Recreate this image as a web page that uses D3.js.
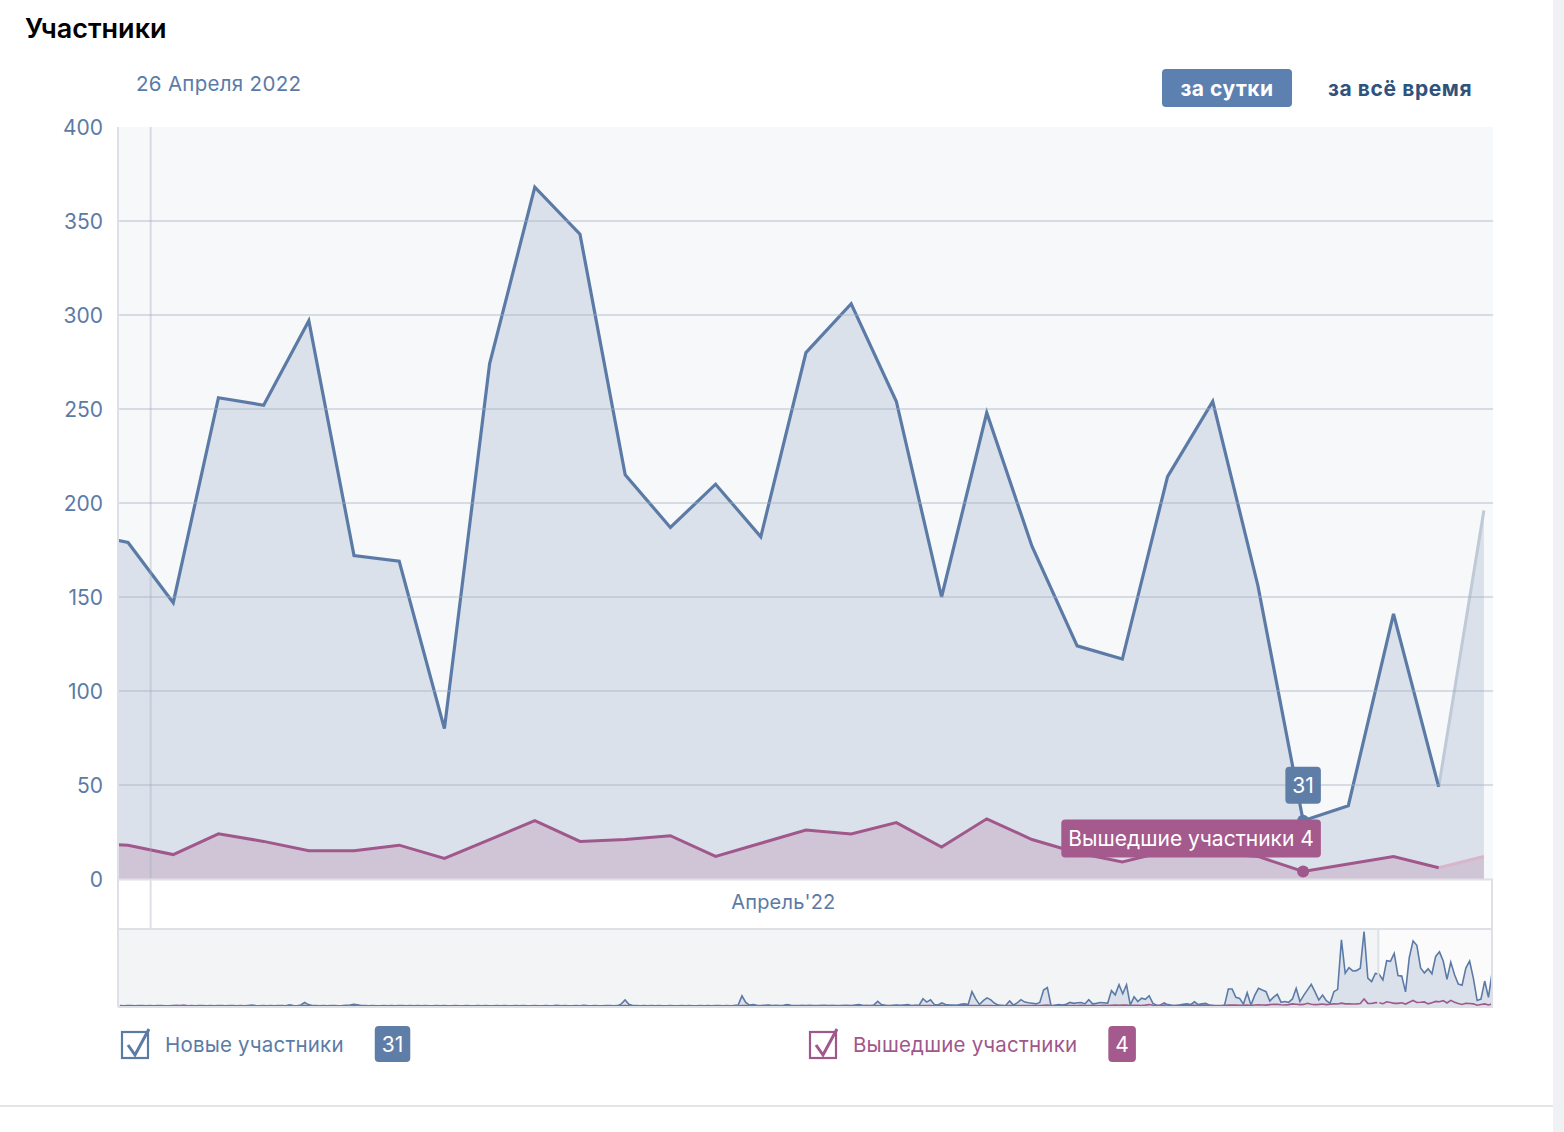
<!DOCTYPE html>
<html><head><meta charset="utf-8">
<script src="https://cdn.jsdelivr.net/npm/d3@7"></script>
<style>
body{margin:0;background:#fff;}
svg{display:block;font-family:Inter,"Open Sans","DejaVu Sans",sans-serif;}
</style>
</head><body>
<svg id="c" width="1564" height="1132"></svg>
<script>
// ---------- DATA ----------
const days = ["2022-03-30","2022-03-31","2022-04-01","2022-04-02","2022-04-03","2022-04-04","2022-04-05","2022-04-06","2022-04-07","2022-04-08","2022-04-09","2022-04-10","2022-04-11","2022-04-12","2022-04-13","2022-04-14","2022-04-15","2022-04-16","2022-04-17","2022-04-18","2022-04-19","2022-04-20","2022-04-21","2022-04-22","2022-04-23","2022-04-24","2022-04-25","2022-04-26","2022-04-27","2022-04-28","2022-04-29","2022-04-30"];
const newMembers = [184,179,147,256,252,297,172,169,80,274,368,343,215,187,210,182,280,306,254,150,248,177,124,117,214,254,156,31,39,141,49,196];
const leftMembers = [19,18,13,24,20,15,15,18,11,21,31,20,21,23,12,19,26,24,30,17,32,21,14,9,15,14,12,4,8,12,6,12];
const yTicks = [0,50,100,150,200,250,300,350,400];
const seriesNames = ["Новые участники","Вышедшие участники"];
const monthGen = ["Января","Февраля","Марта","Апреля","Мая","Июня","Июля","Августа","Сентября","Октября","Ноября","Декабря"];
const hoverDay = "2022-04-26";
const monthLabel = "Апрель'22";
const periodButtons = ["за сутки","за всё время"];

// navigator history (daily, from 2021-05-01 up to 2022-03-29), continued by the data above
const navStart = "2021-05-01";
const navNewEarly = [
2,1,3,2,1,3,2,1,2,1,3,2,1,1,2,3,1,2,1,2,
1,2,3,1,2,1,2,2,1,3,2,1,2,1,3,5,2,1,2,1,
2,1,3,2,1,6,2,1,6,20,8,3,2,1,2,1,3,2,1,2,
4,6,9,7,3,2,1,2,1,1,2,1,2,1,2,2,1,3,1,2,
1,2,1,1,2,1,2,1,1,2,1,1,2,1,1,2,1,2,1,1,
3,1,2,1,1,2,1,2,1,1,2,1,1,2,1,2,4,1,2,1,
1,2,1,4,2,1,2,1,1,3,2,1,2,12,34,10,3,2,1,2,
1,2,1,2,1,1,2,1,1,2,1,2,1,1,2,1,2,1,3,2,
1,2,1,3,6,57,20,5,8,4,3,4,5,3,4,3,4,8,4,3,
3,2,3,4,3,2,3,4,3,2,3,2,3,4,3,5,8,4,3,3,
6,26,8,4,3,4,5,4,6,8,3,4,5,41,22,35,8,6,17,8,
6,5,4,10,12,8,81,40,8,30,46,35,15,5,3,4,28,5,18,36,
22,18,16,12,20,90,104,0,4,8,5,10,20,15,18,20,12,36,12,15,
20,18,15,87,63,120,69,120,5,52,25,44,38,58,15,4,3,5,8,4,
3,5,10,12,8,24,8,12,15,5,3,0,0,5,96,96,49,43,10,75,
5,60,100,90,81,28,50,66,21,25,21,40,100,25,60,91,122,80,34,62,
30,15,81,94,374,185,217,198,200,213,421,157,138];
const navLeftEarly = [
0,1,0,0,1,0,0,1,0,0,1,0,0,0,1,2,3,4,1,0,
0,1,0,0,1,0,0,0,1,0,0,1,0,0,1,0,0,1,0,0,
1,0,0,1,0,0,1,0,0,2,1,0,0,1,0,0,1,0,0,1,
0,0,1,0,0,1,0,0,1,0,0,0,1,0,0,1,0,0,1,0,
0,1,0,0,1,0,0,0,1,0,0,1,0,0,1,0,0,1,0,0,
1,0,0,1,0,0,1,0,0,0,1,0,0,1,0,0,1,0,0,1,
0,0,1,0,0,1,0,0,1,0,0,1,0,1,2,1,0,0,1,0,
0,1,0,0,1,0,0,0,1,0,0,1,0,0,1,0,0,1,0,0,
1,0,1,2,1,3,2,1,1,0,1,1,2,1,1,0,1,2,1,1,
1,2,1,1,0,1,2,1,1,2,1,1,2,1,1,2,1,1,2,1,
1,2,1,2,1,1,2,1,2,1,1,2,1,3,2,2,1,2,3,1,
2,1,2,2,1,2,3,2,1,2,3,2,1,2,2,1,3,2,2,3,
2,3,2,2,3,4,5,2,2,3,3,4,3,2,3,4,3,3,4,3,
3,4,3,4,5,4,5,6,3,4,4,3,5,8,4,3,6,18,5,3,
3,4,3,4,5,4,3,4,5,3,3,2,2,3,5,6,5,4,4,5,
3,6,7,6,5,8,10,9,7,6,8,12,10,8,9,15,10,8,9,11,
8,10,12,11,16,12,13,11,12,14,40,15,14];

// ---------- STYLE ----------
const C = {
  blue:"#5b7ba6", blueFill:"#dbe1ea", blueFade:"#bfc9d7",
  purple:"#a0578b", purpleFill:"#d0c5d7", purpleFade:"#d8b5cb",
  plotBg:"#f7f8fa", grid:"rgba(160,172,192,0.38)", border:"#dde0e5",
  navBg:"#f3f4f6", text:"#5b7ba6"
};
const P = {l:118, r:1493, t:127, b:879};
const band = {t:879, b:929};
const nav = {t:929, b:1007};

const svg = d3.select("#c");
const parse = d3.timeParse("%Y-%m-%d");
const noon = s => d3.timeHour.offset(parse(s), 12);
const data = days.map((d,i)=>({date:noon(d), a:newMembers[i], b:leftMembers[i]}));

const x = d3.scaleTime()
  .domain([new Date(2022,2,31,6,40), new Date(2022,3,30,16,50)])
  .range([P.l, P.r]);
const y = d3.scaleLinear().domain([0,400]).range([P.b, P.t]);

// page chrome
svg.append("rect").attr("x",1553).attr("y",0).attr("width",11).attr("height",1132).attr("fill","#eff1f4");
svg.append("line").attr("x1",0).attr("x2",1553).attr("y1",1106).attr("y2",1106).attr("stroke","#e3e5e8").attr("stroke-width",2);
svg.append("text").attr("x",25).attr("y",28).attr("dominant-baseline","central")
  .attr("font-size",27).attr("font-weight",600).attr("fill","#000").text("Участники");

const hd = parse(hoverDay);
svg.append("text").attr("x",136).attr("y",83).attr("dominant-baseline","central")
  .attr("font-size",20.5).attr("letter-spacing",0.3).attr("fill",C.text)
  .text(`${hd.getDate()} ${monthGen[hd.getMonth()]} ${hd.getFullYear()}`);

// buttons
svg.append("rect").attr("x",1162).attr("y",69).attr("width",130).attr("height",38).attr("rx",4).attr("fill","#5c80b0");
svg.append("text").attr("x",1227).attr("y",88).attr("text-anchor","middle").attr("dominant-baseline","central")
  .attr("font-size",21).attr("letter-spacing",0.5).attr("font-weight",700).attr("fill","#fff").text(periodButtons[0]);
svg.append("text").attr("x",1328).attr("y",88).attr("dominant-baseline","central")
  .attr("font-size",21).attr("letter-spacing",0.6).attr("font-weight",700).attr("fill","#2f537d").text(periodButtons[1]);

// plot bg
svg.append("rect").attr("x",P.l).attr("y",P.t).attr("width",P.r-P.l).attr("height",P.b-P.t).attr("fill",C.plotBg);

svg.append("defs").append("clipPath").attr("id","pc")
  .append("rect").attr("x",P.l).attr("y",P.t-10).attr("width",P.r-P.l).attr("height",P.b-P.t+10);
const g = svg.append("g").attr("clip-path","url(#pc)");

const areaA = d3.area().x(d=>x(d.date)).y0(y(0)).y1(d=>y(d.a));
const areaB = d3.area().x(d=>x(d.date)).y0(y(0)).y1(d=>y(d.b));
const lineA = d3.line().x(d=>x(d.date)).y(d=>y(d.a));
const lineB = d3.line().x(d=>x(d.date)).y(d=>y(d.b));
const solid = data.slice(0, data.length-1);
const fade = data.slice(data.length-2);

g.append("path").datum(data).attr("d",areaA).attr("fill",C.blueFill);
g.append("path").datum(data).attr("d",areaB).attr("fill",C.purpleFill);

// grid over areas
svg.append("g").selectAll("line").data(yTicks.filter(t=>t>0 && t<400)).join("line")
  .attr("x1",P.l).attr("x2",P.r).attr("y1",d=>y(d)).attr("y2",d=>y(d))
  .attr("stroke",C.grid).attr("stroke-width",2);

// y labels
svg.append("g").selectAll("text").data(yTicks).join("text")
  .attr("x",103).attr("y",d=>y(d)).attr("text-anchor","end").attr("dominant-baseline","central")
  .attr("font-size",21).attr("fill",C.text).text(d=>d);

// month separator
const monthStart = new Date(2022,3,1);
svg.append("line").attr("x1",x(monthStart)).attr("x2",x(monthStart)).attr("y1",P.t).attr("y2",band.b)
  .attr("stroke",C.grid).attr("stroke-width",2);

// lines
g.append("path").datum(fade).attr("d",lineA).attr("fill","none").attr("stroke",C.blueFade).attr("stroke-width",3);
g.append("path").datum(fade).attr("d",lineB).attr("fill","none").attr("stroke",C.purpleFade).attr("stroke-width",3);
g.append("path").datum(solid).attr("d",lineB).attr("fill","none").attr("stroke",C.purple).attr("stroke-width",3).attr("stroke-linejoin","miter");
g.append("path").datum(solid).attr("d",lineA).attr("fill","none").attr("stroke",C.blue).attr("stroke-width",3.2).attr("stroke-linejoin","miter");

// x band
svg.append("rect").attr("x",P.l).attr("y",band.t).attr("width",P.r-P.l).attr("height",band.b-band.t).attr("fill","#fff");
svg.append("line").attr("x1",P.l).attr("x2",P.r).attr("y1",band.t+0.5).attr("y2",band.t+0.5).attr("stroke",C.border).attr("stroke-width",2);
svg.append("line").attr("x1",P.r-1).attr("x2",P.r-1).attr("y1",band.t).attr("y2",band.b).attr("stroke",C.border).attr("stroke-width",2);
svg.append("line").attr("x1",x(monthStart)).attr("x2",x(monthStart)).attr("y1",band.t).attr("y2",band.b)
  .attr("stroke",C.border).attr("stroke-width",2);
svg.append("text").attr("x",x(new Date(2022,3,15))).attr("y",902).attr("text-anchor","middle").attr("dominant-baseline","central")
  .attr("font-size",20).attr("letter-spacing",0.2).attr("fill",C.text).text(monthLabel);

// navigator
const navData = navNewEarly.concat(newMembers).map((v,i)=>({
  date: d3.timeHour.offset(d3.timeDay.offset(parse(navStart), i), 12),
  a: v, b: navLeftEarly.concat(leftMembers)[i]
}));
const nx = d3.scaleTime().domain([parse(navStart), x.domain()[1]]).range([P.l, P.r]);
const ny = d3.scaleLinear().domain([0, d3.max(navData,d=>d.a)*1.02]).range([nav.b-1, nav.t+1]);
svg.append("rect").attr("x",P.l).attr("y",nav.t).attr("width",P.r-P.l).attr("height",nav.b-nav.t).attr("fill",C.navBg);
const wx = nx(x.domain()[0]);
svg.append("rect").attr("x",wx).attr("y",nav.t).attr("width",P.r-wx).attr("height",nav.b-nav.t).attr("fill","#fbfbfc");
svg.append("path").datum(navData).attr("d",d3.area().x(d=>nx(d.date)).y0(ny(0)).y1(d=>ny(d.a))).attr("fill",C.blueFill);
svg.append("path").datum(navData).attr("d",d3.line().x(d=>nx(d.date)).y(d=>ny(d.b))).attr("fill","none").attr("stroke",C.purple).attr("stroke-width",1.6);
svg.append("path").datum(navData).attr("d",d3.line().x(d=>nx(d.date)).y(d=>ny(d.a))).attr("fill","none").attr("stroke",C.blue).attr("stroke-width",1.6);
svg.append("line").attr("x1",wx).attr("x2",wx).attr("y1",nav.t).attr("y2",nav.b).attr("stroke",C.border).attr("stroke-width",2);
svg.append("line").attr("x1",P.l).attr("x2",P.r).attr("y1",nav.t).attr("y2",nav.t).attr("stroke",C.border).attr("stroke-width",2);
svg.append("line").attr("x1",P.l).attr("x2",P.r).attr("y1",nav.b).attr("y2",nav.b).attr("stroke",C.border).attr("stroke-width",2);
svg.append("line").attr("x1",P.r-1).attr("x2",P.r-1).attr("y1",nav.t).attr("y2",nav.b).attr("stroke",C.border).attr("stroke-width",2);
// left axis line
svg.append("line").attr("x1",P.l).attr("x2",P.l).attr("y1",P.t).attr("y2",nav.b).attr("stroke",C.border).attr("stroke-width",2);

// hover markers + tooltips
const hi = days.indexOf(hoverDay);
const h = data[hi];
const px = x(h.date);
svg.append("circle").attr("cx",px).attr("cy",y(h.a)).attr("r",6).attr("fill",C.blue);
svg.append("circle").attr("cx",px).attr("cy",y(h.b)).attr("r",6).attr("fill",C.purple);

function box(txt, fill, cx, bottom, h, anchorRight){
  const gg = svg.append("g");
  const r = gg.append("rect").attr("rx",4).attr("fill",fill);
  const t = gg.append("text").attr("font-size",21).attr("fill","#fff").attr("dominant-baseline","central").text(txt);
  const w = t.node().getComputedTextLength() + 14;
  const left = anchorRight!=null ? anchorRight - w : cx - w/2;
  r.attr("x",left).attr("y",bottom-h).attr("width",w).attr("height",h);
  t.attr("x",left+7).attr("y",bottom-h/2);
  return {left, w};
}
const bb = box(String(h.a), "#5e7ea8", px, y(h.a)-17, 37, null);
box(seriesNames[1]+" "+h.b, "#a45a8c", null, y(h.b)-14, 38, bb.left+bb.w);

// legend
function legend(x0, color, name, val, badgeColor){
  const gg = svg.append("g");
  gg.append("rect").attr("x",x0+1).attr("y",1032).attr("width",26).attr("height",26).attr("fill","#fff").attr("stroke",color).attr("stroke-width",2.2);
  gg.append("path").attr("d",`M${x0+7},${1045} L${x0+14},${1055} L${x0+28},${1029}`).attr("fill","none").attr("stroke",color).attr("stroke-width",3);
  const t = gg.append("text").attr("x",x0+44).attr("y",1044).attr("dominant-baseline","central").attr("font-size",20.5).attr("letter-spacing",0.2).attr("fill",color).text(name);
  const tx = x0+44+t.node().getComputedTextLength()+31;
  const bt = gg.append("text").attr("font-size",21).attr("fill","#fff").attr("dominant-baseline","central").text(val);
  const bw = bt.node().getComputedTextLength()+14;
  gg.insert("rect","text:last-child").attr("x",tx).attr("y",1026).attr("width",bw).attr("height",36).attr("rx",4).attr("fill",badgeColor);
  bt.attr("x",tx+7).attr("y",1044);
  bt.raise();
}
legend(121, C.blue, seriesNames[0], h.a, "#5e7ea8");
legend(809, C.purple, seriesNames[1], h.b, "#a45a8c");
</script>
</body></html>
